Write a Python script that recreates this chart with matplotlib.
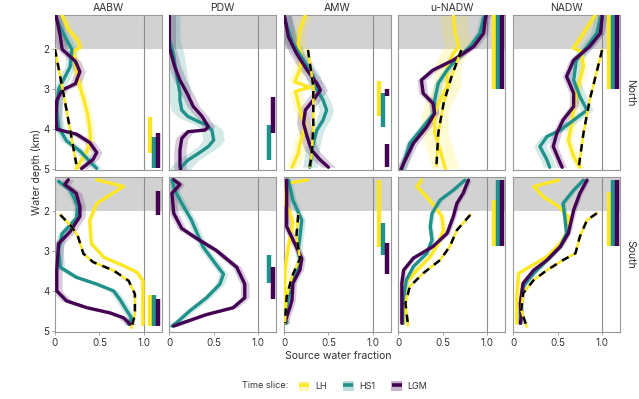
import numpy as np
import matplotlib
matplotlib.use('Agg')
import matplotlib.pyplot as plt
from matplotlib.patches import Patch
from matplotlib.lines import Line2D

plt.rcParams['font.family'] = ['Inter', 'DejaVu Sans']

water_masses = ['AABW', 'PDW', 'AMW', 'u-NADW', 'NADW']
regions = ['North', 'South']
slices = ['LH', 'HS1', 'LGM']
colors = {'LH': '#fde725', 'HS1': '#21918c', 'LGM': '#440154'}

# profiles: (source water fraction, depth km)
aabw_n_lh = [(0.08, 1.15), (0.15, 1.5), (0.26, 1.78), (0.28, 1.95), (0.21, 2.05), (0.23, 2.35), (0.26, 2.75),
             (0.29, 3.0), (0.33, 3.3), (0.37, 3.65), (0.39, 3.95), (0.40, 4.25), (0.36, 4.55), (0.29, 4.8), (0.24, 4.98)]
aabw_n_hs1 = [(0.0, 1.15), (0.06, 1.45), (0.13, 1.76), (0.19, 2.0), (0.17, 2.44), (0.11, 2.7), (0.04, 3.0),
              (0.02, 3.5), (0.04, 3.95), (0.13, 4.29), (0.28, 4.54), (0.39, 4.8), (0.47, 4.98)]
aabw_n_lgm = [(0.01, 1.15), (0.04, 1.45), (0.06, 1.68), (0.08, 2.0), (0.23, 2.3), (0.28, 2.56), (0.23, 2.86),
              (0.08, 3.02), (0.02, 3.28), (0.01, 3.7), (0.02, 4.0), (0.24, 4.12), (0.39, 4.33), (0.47, 4.58),
              (0.43, 4.75), (0.30, 4.98)]
aabw_n_dash = [(0.0, 2.0), (0.12, 3.4), (0.24, 4.87)]

pdw_n_hs1 = [(0.0, 1.15), (0.0, 1.75), (0.045, 2.1), (0.08, 2.6), (0.12, 3.1), (0.12, 3.27), (0.14, 3.52),
             (0.21, 3.68), (0.33, 3.81), (0.42, 3.89), (0.48, 4.02), (0.50, 4.27), (0.44, 4.43), (0.33, 4.6),
             (0.21, 4.77), (0.14, 4.93), (0.12, 5.02)]
pdw_n_lgm = [(0.0, 1.15), (0.0, 1.94), (0.06, 2.43), (0.12, 2.77), (0.20, 3.1), (0.27, 3.43), (0.37, 3.68),
             (0.44, 3.94), (0.40, 4.02), (0.21, 4.06), (0.14, 4.23), (0.12, 4.52), (0.12, 4.93), (0.13, 5.02)]

amw_n_lh = [(0.24, 1.15), (0.18, 1.52), (0.16, 1.85), (0.20, 2.2), (0.18, 2.5), (0.12, 2.81), (0.29, 2.95),
            (0.13, 3.05), (0.18, 3.52), (0.24, 3.94), (0.18, 4.35), (0.16, 4.6), (0.09, 4.95)]
amw_n_hs1 = [(0.0, 1.15), (0.01, 1.27), (0.10, 1.85), (0.22, 2.27), (0.33, 2.68), (0.37, 3.0), (0.44, 3.27),
             (0.48, 3.52), (0.44, 3.77), (0.37, 4.02), (0.33, 4.35), (0.31, 4.68), (0.29, 4.95)]
amw_n_lgm = [(0.0, 1.15), (0.01, 1.22), (0.05, 1.69), (0.14, 2.1), (0.26, 2.52), (0.37, 2.85), (0.41, 3.02),
             (0.33, 3.27), (0.24, 3.52), (0.22, 3.85), (0.26, 4.18), (0.31, 4.52), (0.41, 4.77), (0.50, 4.95)]
amw_n_dash = [(0.27, 2.02), (0.33, 2.93), (0.33, 3.94), (0.31, 4.68), (0.29, 4.93)]

unadw_n_lh = [(0.62, 1.15), (0.64, 1.6), (0.68, 1.93), (0.62, 2.1), (0.55, 2.43), (0.55, 2.93), (0.47, 3.27),
              (0.41, 3.6), (0.41, 4.1), (0.47, 4.52), (0.53, 4.98)]
unadw_n_hs1 = [(0.98, 1.15), (0.96, 1.22), (0.92, 1.6), (0.81, 1.93), (0.66, 2.23), (0.55, 2.52), (0.45, 2.85),
               (0.41, 3.27), (0.40, 3.6), (0.28, 3.94), (0.13, 4.35), (0.06, 4.85), (0.04, 5.0)]
unadw_n_lgm = [(0.99, 1.15), (0.98, 1.22), (0.96, 1.6), (0.85, 1.93), (0.62, 2.27), (0.39, 2.52), (0.26, 2.77),
               (0.28, 3.1), (0.39, 3.35), (0.41, 3.6), (0.32, 3.94), (0.17, 4.35), (0.06, 4.85), (0.03, 5.0)]
unadw_n_dash = [(0.71, 2.02), (0.60, 2.68), (0.51, 3.35), (0.45, 4.1), (0.43, 4.9)]

nadw_n_lh = [(0.92, 1.15), (0.90, 1.22), (0.79, 1.6), (0.68, 1.97), (0.76, 2.05), (0.79, 2.43), (0.73, 2.93),
             (0.68, 3.43), (0.66, 3.85), (0.62, 4.27), (0.68, 4.68), (0.75, 4.95)]
nadw_n_hs1 = [(1.0, 1.15), (0.98, 1.22), (0.94, 1.6), (0.83, 1.93), (0.71, 2.27), (0.68, 2.77), (0.75, 3.18),
              (0.83, 3.52), (0.68, 3.77), (0.53, 4.02), (0.38, 4.18), (0.30, 4.43), (0.38, 4.77), (0.41, 4.95)]
nadw_n_lgm = [(1.0, 1.15), (1.0, 1.22), (0.98, 1.6), (0.86, 1.93), (0.68, 2.27), (0.60, 2.68), (0.68, 3.1),
              (0.68, 3.43), (0.56, 3.77), (0.49, 4.1), (0.45, 4.43), (0.53, 4.85), (0.55, 4.95)]
nadw_n_dash = [(1.0, 2.02), (0.86, 3.27), (0.79, 4.1), (0.74, 4.9)]

aabw_s_lh = [(0.47, 1.21), (0.77, 1.38), (0.47, 1.8), (0.39, 2.22), (0.41, 2.81), (0.55, 3.15), (0.77, 3.36),
             (0.92, 3.52), (0.99, 3.73), (0.99, 4.83)]
aabw_s_hs1 = [(0.04, 1.25), (0.17, 1.46), (0.26, 1.88), (0.24, 2.18), (0.08, 2.56), (0.04, 2.98), (0.06, 3.4),
              (0.24, 3.65), (0.47, 3.82), (0.66, 3.99), (0.73, 4.2), (0.81, 4.49), (0.86, 4.66), (0.83, 4.83)]
aabw_s_lgm = [(0.15, 1.21), (0.11, 1.33), (0.24, 1.55), (0.28, 1.88), (0.28, 2.13), (0.17, 2.51), (0.04, 2.81),
              (0.02, 3.48), (0.02, 3.99), (0.13, 4.24), (0.36, 4.41), (0.62, 4.54), (0.77, 4.66), (0.85, 4.83)]
aabw_s_dash = [(0.06, 2.09), (0.19, 2.39), (0.26, 2.64), (0.32, 3.06), (0.43, 3.27), (0.66, 3.48), (0.83, 3.74),
               (0.90, 4.07), (0.90, 4.58), (0.86, 4.91)]

pdw_s_hs1 = [(0.03, 1.21), (0.06, 1.46), (0.14, 1.8), (0.25, 2.22), (0.38, 2.89), (0.52, 3.31), (0.61, 3.57),
             (0.57, 3.82), (0.42, 4.16), (0.23, 4.49), (0.08, 4.79), (0.03, 4.87)]
pdw_s_lgm = [(0.05, 1.21), (0.12, 1.33), (0.03, 1.55), (0.05, 2.05), (0.14, 2.43), (0.31, 2.68), (0.53, 2.98),
             (0.76, 3.4), (0.85, 3.82), (0.85, 4.16), (0.72, 4.41), (0.42, 4.58), (0.20, 4.75), (0.05, 4.87)]

amw_s_lh = [(0.26, 1.22), (0.03, 1.3), (0.01, 1.8), (0.07, 2.05), (0.10, 2.3), (0.05, 2.88), (0.01, 3.46),
            (0.01, 4.8)]
amw_s_hs1 = [(0.05, 1.22), (0.10, 1.72), (0.20, 2.22), (0.18, 2.63), (0.16, 2.97), (0.18, 3.22), (0.10, 3.72),
             (0.05, 4.14), (0.01, 4.64), (0.03, 4.8)]
amw_s_lgm = [(0.03, 1.22), (0.03, 1.88), (0.03, 2.38), (0.12, 2.8), (0.20, 3.18), (0.18, 3.46), (0.10, 3.8),
             (0.09, 4.22), (0.07, 4.38), (0.03, 4.64), (0.01, 4.8)]
amw_s_dash = [(0.16, 2.09), (0.14, 2.63), (0.18, 3.18), (0.09, 3.63), (0.03, 4.14), (0.01, 4.8)]

unadw_s_lh = [(0.26, 1.22), (0.21, 1.38), (0.32, 1.64), (0.41, 1.88), (0.49, 2.13), (0.51, 2.47), (0.45, 2.8),
              (0.36, 3.13), (0.21, 3.47), (0.08, 3.8), (0.06, 4.3), (0.06, 4.8)]
unadw_s_hs1 = [(0.75, 1.22), (0.62, 1.47), (0.47, 1.72), (0.38, 2.05), (0.36, 2.38), (0.38, 2.72), (0.32, 3.05),
               (0.17, 3.38), (0.09, 3.72), (0.05, 4.3), (0.05, 4.8)]
unadw_s_lgm = [(0.79, 1.22), (0.73, 1.55), (0.66, 1.8), (0.62, 2.13), (0.55, 2.55), (0.39, 2.88), (0.17, 3.17),
               (0.06, 3.47), (0.04, 3.8), (0.04, 4.3), (0.04, 4.8)]
unadw_s_dash = [(0.81, 2.09), (0.66, 2.47), (0.58, 2.88), (0.47, 3.22), (0.28, 3.55), (0.13, 3.88), (0.08, 4.3),
                (0.11, 4.85)]

nadw_s_lh = [(0.51, 1.22), (0.23, 1.38), (0.34, 1.64), (0.51, 1.88), (0.62, 2.13), (0.62, 2.47), (0.53, 2.8),
             (0.38, 3.13), (0.19, 3.38), (0.06, 3.55), (0.04, 4.14), (0.04, 4.8)]
nadw_s_hs1 = [(0.79, 1.22), (0.68, 1.47), (0.56, 1.8), (0.58, 2.13), (0.60, 2.55), (0.53, 2.88), (0.38, 3.22),
              (0.23, 3.55), (0.11, 3.88), (0.08, 4.3), (0.08, 4.8)]
nadw_s_lgm = [(0.83, 1.22), (0.75, 1.55), (0.68, 1.97), (0.62, 2.55), (0.53, 2.88), (0.38, 3.22), (0.23, 3.47),
              (0.11, 3.8), (0.08, 4.3), (0.09, 4.64), (0.08, 4.8)]
nadw_s_dash = [(0.94, 2.05), (0.83, 2.22), (0.75, 2.63), (0.70, 3.05), (0.56, 3.22), (0.38, 3.47), (0.23, 3.72),
               (0.11, 4.05), (0.09, 4.47), (0.15, 4.88)]

# depth ranges (km) of the bars right of x = 1
aabw_n_bars = [('LH', 3.70, 4.58), ('HS1', 4.18, 4.96), ('LGM', 4.09, 4.96)]
pdw_n_bars = [('HS1', 3.89, 4.77), ('LGM', 3.19, 4.08)]
amw_n_bars = [('LH', 2.78, 3.67), ('HS1', 3.10, 3.95), ('LGM', 2.99, 3.17), ('LGM', 4.37, 4.93)]
unadw_n_bars = [('LH', 1.14, 2.98), ('HS1', 1.14, 2.98), ('LGM', 1.14, 2.98)]
nadw_n_bars = [('LH', 1.14, 2.98), ('HS1', 1.14, 2.98), ('LGM', 1.14, 2.98)]
aabw_s_bars = [('LGM', 1.50, 2.09), ('LH', 4.10, 4.87), ('HS1', 4.10, 4.87), ('LGM', 4.20, 4.87)]
pdw_s_bars = [('HS1', 3.10, 3.78), ('LGM', 3.40, 4.20)]
amw_s_bars = [('LH', 1.22, 2.88), ('HS1', 2.30, 3.09), ('LGM', 2.80, 3.57)]
unadw_s_bars = [('LH', 1.72, 2.87), ('HS1', 1.22, 2.87), ('LGM', 1.22, 2.87)]
nadw_s_bars = [('LH', 1.51, 2.87), ('HS1', 1.22, 2.87), ('LGM', 1.22, 2.87)]

# half width of the uncertainty band (LH, HS1, LGM)
band_n = {'AABW': (0.05, 0.06, 0.06), 'PDW': (0.0, 0.12, 0.07), 'AMW': (0.07, 0.08, 0.08),
          'u-NADW': (0.15, 0.05, 0.05), 'NADW': (0.05, 0.07, 0.05)}
band_s = {'AABW': (0.03, 0.05, 0.06), 'PDW': (0.0, 0.05, 0.05), 'AMW': (0.04, 0.04, 0.04),
          'u-NADW': (0.04, 0.03, 0.03), 'NADW': (0.03, 0.03, 0.03)}

panels = {
    ('North', 'AABW'): ({'LH': aabw_n_lh, 'HS1': aabw_n_hs1, 'LGM': aabw_n_lgm}, aabw_n_dash, aabw_n_bars),
    ('North', 'PDW'): ({'HS1': pdw_n_hs1, 'LGM': pdw_n_lgm}, None, pdw_n_bars),
    ('North', 'AMW'): ({'LH': amw_n_lh, 'HS1': amw_n_hs1, 'LGM': amw_n_lgm}, amw_n_dash, amw_n_bars),
    ('North', 'u-NADW'): ({'LH': unadw_n_lh, 'HS1': unadw_n_hs1, 'LGM': unadw_n_lgm}, unadw_n_dash, unadw_n_bars),
    ('North', 'NADW'): ({'LH': nadw_n_lh, 'HS1': nadw_n_hs1, 'LGM': nadw_n_lgm}, nadw_n_dash, nadw_n_bars),
    ('South', 'AABW'): ({'LH': aabw_s_lh, 'HS1': aabw_s_hs1, 'LGM': aabw_s_lgm}, aabw_s_dash, aabw_s_bars),
    ('South', 'PDW'): ({'HS1': pdw_s_hs1, 'LGM': pdw_s_lgm}, None, pdw_s_bars),
    ('South', 'AMW'): ({'LH': amw_s_lh, 'HS1': amw_s_hs1, 'LGM': amw_s_lgm}, amw_s_dash, amw_s_bars),
    ('South', 'u-NADW'): ({'LH': unadw_s_lh, 'HS1': unadw_s_hs1, 'LGM': unadw_s_lgm}, unadw_s_dash, unadw_s_bars),
    ('South', 'NADW'): ({'LH': nadw_s_lh, 'HS1': nadw_s_hs1, 'LGM': nadw_s_lgm}, nadw_s_dash, nadw_s_bars),
}

text_col = '#333333'
frame_col = '#999999'

fig = plt.figure(figsize=(6.39, 3.99), dpi=100)
lefts = [55, 169.3, 284, 398.3, 513.3]
row_tops = [14.9, 176.9]
W, H = 639, 399
pw, ph = 107, 155.2

for r, region in enumerate(regions):
    bands = band_n if region == 'North' else band_s
    for c, wm in enumerate(water_masses):
        ax = fig.add_axes([lefts[c] / W, 1 - (row_tops[r] + ph) / H, pw / W, ph / H])
        ax.set_xlim(0, 1.205)
        ax.set_ylim(5.02, 1.14)
        ax.axhspan(1.14, 2.0, color='#d2d2d2', zorder=0, lw=0)
        ax.axvline(1.0, color='#8c8c8c', lw=0.8, zorder=1)

        curves, dash, bars = panels[(region, wm)]
        for i, s in enumerate(slices):
            if s not in curves:
                continue
            x = np.array([p[0] for p in curves[s]])
            d = np.array([p[1] for p in curves[s]])
            w = bands[wm][i]
            ax.fill_betweenx(d, x - w, x + w, color=colors[s], alpha=0.2, lw=0, zorder=2)
        for s in slices:
            if s not in curves:
                continue
            x = [p[0] for p in curves[s]]
            d = [p[1] for p in curves[s]]
            ax.plot(x, d, color=colors[s], lw=2.4, solid_capstyle='round', zorder=3)
        if dash is not None:
            x = [p[0] for p in dash]
            d = [p[1] for p in dash]
            ax.plot(x, d, color=colors['LH'], lw=1.8, zorder=4)
            ax.plot(x, d, color='black', lw=1.8, dashes=(3, 2.5), zorder=5)

        for s, top, bottom in bars:
            xb = 1.075 + 0.045 * slices.index(s)
            ax.vlines(xb, top, bottom, color=colors[s], lw=3.2, zorder=3)

        for sp in ax.spines.values():
            sp.set_color(frame_col)
            sp.set_linewidth(0.8)
        ax.tick_params(colors=frame_col, labelcolor=text_col, labelsize=7, length=2, width=0.6, pad=2)
        ax.set_yticks([2, 3, 4, 5])
        ax.set_xticks([0, 0.5, 1.0])
        ax.set_xticklabels(['0', '0.5', '1.0'])
        if c > 0:
            ax.tick_params(axis='y', left=False, labelleft=False)
        if r == 0:
            ax.tick_params(axis='x', bottom=False, labelbottom=False)
            ax.set_title(wm, fontsize=7.5, color=text_col, pad=3)
        if c == len(water_masses) - 1:
            ax.text(1.09, 0.5, region, transform=ax.transAxes, rotation=270, va='center', ha='center',
                    fontsize=7.5, color=text_col)

fig.text(36 / W, 1 - 172 / H, 'Water depth (km)', rotation=90, va='center', ha='center', fontsize=7.5, color=text_col)
fig.text(338 / W, 1 - 356 / H, 'Source water fraction', va='center', ha='center', fontsize=7.5, color=text_col)

handles = [(Patch(facecolor=colors[s], alpha=0.3, lw=0),
            Line2D([], [], color=colors[s], marker='_', markersize=7, markeredgewidth=2.6, linestyle='none'))
           for s in slices]
fig.text(265 / W, 1 - 386 / H, 'Time slice:', va='center', ha='center', fontsize=6.5, color=text_col)
fig.legend(handles, slices, ncol=3, loc='center', bbox_to_anchor=(363 / W, 1 - 386 / H), frameon=False,
           fontsize=6.5, handlelength=1.2, handleheight=1.4, columnspacing=1.8, handletextpad=0.6,
           labelcolor=text_col)

plt.savefig('out.png', dpi=100)
plt.close()
